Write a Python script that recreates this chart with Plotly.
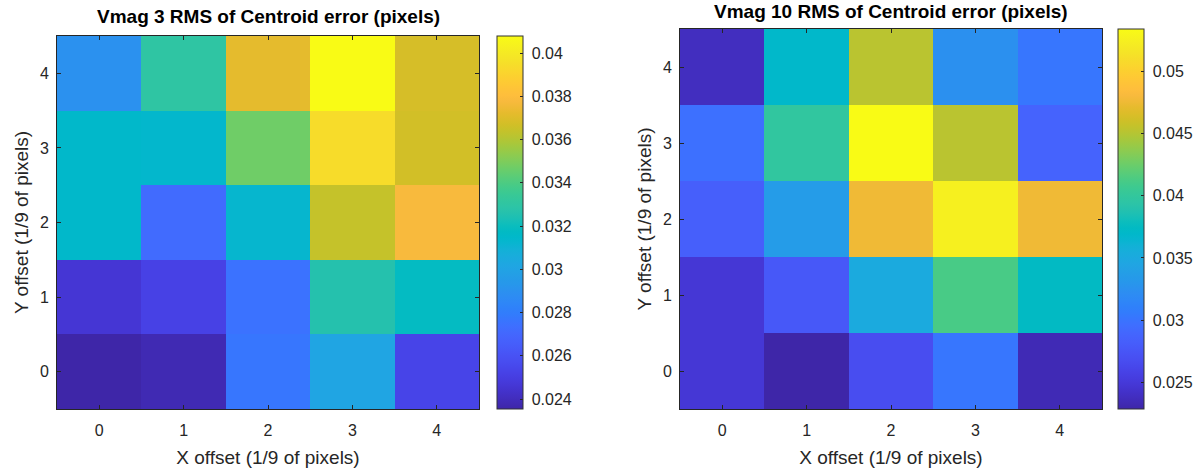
import plotly.graph_objects as go

# ---- data ----
x_offsets = [0, 1, 2, 3, 4]
y_offsets = [0, 1, 2, 3, 4]
x_tick_labels = ["0", "1", "2", "3", "4"]
y_tick_labels = ["0", "1", "2", "3", "4"]

# rows = Y offset 0..4, columns = X offset 0..4
vmag3_rms = [
    [0.02354, 0.02380, 0.02770, 0.03010, 0.02530],
    [0.02460, 0.02520, 0.02750, 0.03260, 0.03180],
    [0.03150, 0.02720, 0.03130, 0.03640, 0.03780],
    [0.03150, 0.03140, 0.03470, 0.03940, 0.03670],
    [0.02900, 0.03300, 0.03720, 0.04079, 0.03680],
]
vmag10_rms = [
    [0.02480, 0.02286, 0.02670, 0.03020, 0.02340],
    [0.02480, 0.02770, 0.03510, 0.04120, 0.03740],
    [0.02830, 0.03360, 0.04760, 0.05250, 0.04760],
    [0.02970, 0.03980, 0.05340, 0.04520, 0.02870],
    [0.02380, 0.03690, 0.04520, 0.03250, 0.03020],
]
cb3_ticks = [0.024, 0.026, 0.028, 0.030, 0.032, 0.034, 0.036, 0.038, 0.040]
cb3_labels = ["0.024", "0.026", "0.028", "0.03", "0.032", "0.034", "0.036", "0.038", "0.04"]
cb10_ticks = [0.025, 0.030, 0.035, 0.040, 0.045, 0.050]
cb10_labels = ["0.025", "0.03", "0.035", "0.04", "0.045", "0.05"]

titles = ["Vmag 3 RMS of Centroid error (pixels)", "Vmag 10 RMS of Centroid error (pixels)"]
x_title = "X offset (1/9 of pixels)"
y_title = "Y offset (1/9 of pixels)"

# ---- parula colormap (64) ----
parula = [
    (0.2422, 0.1504, 0.6603), (0.2504, 0.1650, 0.7076), (0.2578, 0.1818, 0.7511), (0.2647, 0.1978, 0.7952),
    (0.2706, 0.2147, 0.8364), (0.2751, 0.2342, 0.8710), (0.2783, 0.2559, 0.8991), (0.2803, 0.2782, 0.9221),
    (0.2813, 0.3006, 0.9414), (0.2810, 0.3228, 0.9579), (0.2795, 0.3447, 0.9717), (0.2760, 0.3667, 0.9829),
    (0.2699, 0.3892, 0.9906), (0.2602, 0.4123, 0.9952), (0.2440, 0.4358, 0.9988), (0.2206, 0.4603, 0.9973),
    (0.1963, 0.4847, 0.9892), (0.1834, 0.5074, 0.9798), (0.1786, 0.5289, 0.9682), (0.1764, 0.5499, 0.9520),
    (0.1687, 0.5703, 0.9359), (0.1540, 0.5902, 0.9218), (0.1460, 0.6091, 0.9079), (0.1380, 0.6276, 0.8973),
    (0.1248, 0.6459, 0.8883), (0.1113, 0.6635, 0.8763), (0.0952, 0.6798, 0.8598), (0.0689, 0.6948, 0.8394),
    (0.0297, 0.7082, 0.8163), (0.0036, 0.7203, 0.7917), (0.0067, 0.7312, 0.7660), (0.0433, 0.7411, 0.7394),
    (0.0964, 0.7500, 0.7120), (0.1408, 0.7584, 0.6842), (0.1717, 0.7670, 0.6554), (0.1938, 0.7758, 0.6251),
    (0.2161, 0.7843, 0.5923), (0.2470, 0.7918, 0.5567), (0.2906, 0.7973, 0.5188), (0.3406, 0.8008, 0.4789),
    (0.3909, 0.8029, 0.4354), (0.4456, 0.8024, 0.3909), (0.5044, 0.7993, 0.3480), (0.5616, 0.7942, 0.3045),
    (0.6174, 0.7876, 0.2612), (0.6720, 0.7793, 0.2227), (0.7242, 0.7698, 0.1910), (0.7738, 0.7598, 0.1646),
    (0.8203, 0.7498, 0.1535), (0.8634, 0.7406, 0.1596), (0.9035, 0.7330, 0.1774), (0.9393, 0.7288, 0.2100),
    (0.9728, 0.7298, 0.2394), (0.9956, 0.7434, 0.2371), (0.9970, 0.7659, 0.2199), (0.9952, 0.7893, 0.2028),
    (0.9892, 0.8136, 0.1885), (0.9786, 0.8386, 0.1766), (0.9676, 0.8639, 0.1643), (0.9610, 0.8890, 0.1537),
    (0.9597, 0.9135, 0.1423), (0.9628, 0.9373, 0.1265), (0.9691, 0.9606, 0.1064), (0.9769, 0.9839, 0.0805),
]
n = len(parula)
colorscale = [[i / (n - 1), "rgb(%d,%d,%d)" % (round(r * 255), round(g * 255), round(b * 255))]
              for i, (r, g, b) in enumerate(parula)]

W, H = 1199, 471
FONT = "Liberation Sans, Arial, Helvetica, sans-serif"
TXT = "#262626"

def px_x(p):
    return p / W

def px_y(p):  # from top in px -> paper y
    return 1 - p / H

panels = [
    dict(z=vmag3_rms, x0=57, x1=479, top=36, bot=409, cbx=497, ticks=cb3_ticks, labels=cb3_labels, title=titles[0], ty=17),
    dict(z=vmag10_rms, x0=680, x1=1102, top=29, bot=409, cbx=1118, ticks=cb10_ticks, labels=cb10_labels, title=titles[1], ty=12),
]

fig = go.Figure()
annotations = []
for i, p in enumerate(panels):
    flat = [v for row in p["z"] for v in row]
    xa = "x" if i == 0 else "x2"
    ya = "y" if i == 0 else "y2"
    fig.add_trace(go.Heatmap(
        z=p["z"], x=x_offsets, y=y_offsets,
        xaxis=xa, yaxis=ya,
        colorscale=colorscale, zmin=min(flat), zmax=max(flat),
        colorbar=dict(
            x=px_x(p["cbx"]), xanchor="left", xref="paper",
            y=px_y(p["bot"]), yanchor="bottom", yref="paper",
            len=(p["bot"] - p["top"]) / H, lenmode="fraction",
            thickness=26, thicknessmode="pixels",
            outlinewidth=1, outlinecolor="#333333",
            tickvals=p["ticks"], ticktext=[" " + t for t in p["labels"]],
            ticks="inside", ticklen=3, tickcolor="#262626",
            tickfont=dict(family=FONT, size=16, color=TXT),
            xpad=0, ypad=0,
        ),
        hovertemplate="x=%{x}<br>y=%{y}<br>%{z}<extra></extra>",
    ))
    axis_common = dict(
        showgrid=False, zeroline=False, ticks="inside", ticklen=4, tickcolor="#262626",
        showline=True, linecolor="#262626", linewidth=1, mirror="ticks",
        tickfont=dict(family=FONT, size=16, color=TXT),
        range=[-0.5, 4.5],
    )
    fig.update_layout(**{
        ("xaxis" if i == 0 else "xaxis2"): dict(
            axis_common, domain=[px_x(p["x0"]), px_x(p["x1"])], anchor=ya,
            tickvals=x_offsets, ticktext=x_tick_labels, ticklabelstandoff=7,
            title=dict(text=x_title, font=dict(family=FONT, size=19, color=TXT), standoff=12),
        ),
        ("yaxis" if i == 0 else "yaxis2"): dict(
            axis_common, domain=[px_y(p["bot"]), px_y(p["top"])], anchor=xa,
            tickvals=y_offsets, ticktext=y_tick_labels, ticklabelstandoff=4,
            title=dict(text=y_title, font=dict(family=FONT, size=19, color=TXT), standoff=6),
        ),
    })
    annotations.append(dict(
        text="<b>%s</b>" % p["title"], xref="paper", yref="paper",
        x=px_x((p["x0"] + p["x1"]) / 2), y=px_y(p["ty"]), xanchor="center", yanchor="middle",
        showarrow=False, font=dict(family=FONT, size=19, color="#000000"),
    ))

fig.update_layout(
    width=W, height=H, margin=dict(l=0, r=0, t=0, b=0),
    paper_bgcolor="white", plot_bgcolor="white",
    annotations=annotations, showlegend=False,
)
fig.write_html("out.html")
